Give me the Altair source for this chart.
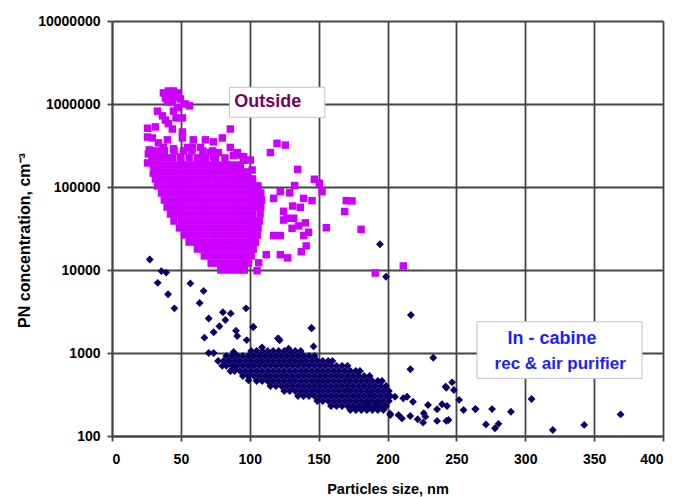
import altair as alt
import pandas as pd

x_ticks = [0, 50, 100, 150, 200, 250, 300, 350, 400]
y_ticks = [100, 1000, 10000, 100000, 1000000, 10000000]

# ---- Outside (magenta squares): dense core, read row by row ----
out_rows_y = [10000, 12100, 14750, 17900, 21700, 26400, 32100, 38900, 47300,
              57400, 69700, 84700, 103000, 125000, 152000, 184000, 224000, 272000]
out_rows_x = [
    [79, 84, 89, 93, 96],
    [72, 76.5, 81.5, 86.5, 91.5, 96, 99],
    [67, 72, 77, 82, 87, 92, 97, 101],
    [62, 66.5, 71.5, 76.5, 81.5, 86.5, 91.5, 96.5, 101, 102.5],
    [56, 61, 66, 71, 76, 81, 86, 91, 96, 101, 104],
    [52.5, 57.5, 62.5, 67.5, 72.5, 77.5, 82.5, 87.5, 92.5, 97.5, 101.5, 105.5],
    [49, 54, 59, 64, 69, 74, 79, 84, 89, 94, 99, 103, 106],
    [45, 50.5, 55.5, 60.5, 65.5, 70.5, 75.5, 80.5, 85.5, 90.5, 95.5, 100.5, 104, 107],
    [42.5, 47, 52, 57, 62, 67, 72, 77, 82, 87, 92, 97, 102, 107.5],
    [40, 44.5, 49.5, 54.5, 59.5, 64.5, 69.5, 74.5, 79.5, 84.5, 89.5, 94.5, 99.5, 104, 108],
    [38, 42, 47, 52, 57, 62, 67, 72, 77, 82, 87, 92, 97, 102, 106, 108.5],
    [36, 40.5, 45.5, 50.5, 55.5, 60.5, 65.5, 70.5, 75.5, 80.5, 85.5, 90.5, 95.5, 100.5, 105, 108],
    [33, 38, 43, 48, 53, 58, 63, 68, 73, 78, 83, 88, 93, 98, 103, 106],
    [31.5, 35.5, 40.5, 45.5, 50.5, 55.5, 60.5, 65.5, 70.5, 75.5, 80.5, 85.5, 90.5, 95.5, 100, 102],
    [31, 34, 39, 44, 49, 54, 59, 64, 69, 74, 79, 84, 89, 94, 97.5],
    [30, 32.5, 37.5, 42.5, 47.5, 52.5, 57.5, 62.5, 67.5, 72.5, 77.5, 82.5, 86, 91],
    [29, 34, 39, 44, 50, 56, 62, 68, 75, 82],
    [28.5, 33, 38, 45, 52, 58, 66, 73],
]
# ---- Outside: individual scattered points ----
out_sx = [37.3, 40.9, 44.6, 48.2, 38.8, 42.4, 46.0, 49.6, 40.2, 43.8, 53.3, 56.2,
          33, 36.6, 38.8, 40.9, 44.6, 46.5, 51.1, 43.8, 51.1, 47.5,
          25.8, 31.5, 25.8, 29.3, 27.1, 25.8, 26.4, 30, 33.7, 37.3, 35.1, 40.2,
          44.6, 51.1, 54.7, 49.6, 59, 64.2, 67.8, 73.6, 80.1, 85.9, 66.5, 73.6,
          88.1, 71.4, 78.7, 88.1, 93.2, 85.9, 58.3, 71.4, 77.2, 91, 95.4, 65.6,
          100.4, 101.7, 95.6, 93.2, 90.8, 75, 83.5, 88.3,
          119.8, 125.8, 115, 134.8, 146.9, 150.5, 152.5, 170.1, 174.2, 168.9,
          155.6, 180.8, 145.2, 139.1, 132.6, 129, 122.2, 117.3, 136.7, 131.1,
          124.6, 131.9, 127.1, 135.5, 140.3, 142.7, 139.1, 141, 137.4, 127.5,
          122.2, 112, 106.5, 105.3, 117.3, 122.2, 130.7, 124.6, 191.1, 211.5]
out_sy = [1360000, 1435000, 1435000, 1360000, 1180000, 1210000, 1210000, 1150000, 1060000, 1060000, 1000000, 950000,
          820000, 720000, 640000, 580000, 820000, 680000, 680000, 500000, 460000, 900000,
          510000, 530000, 400000, 390000, 280000, 195000, 250000, 147000, 340000, 300000, 230000, 370000,
          290000, 390000, 300000, 230000, 370000, 300000, 370000, 350000, 390000, 300000, 195000, 230000,
          240000, 147000, 160000, 175000, 147000, 500000, 300000, 260000, 260000, 260000, 210000, 230000,
          211000, 160000, 232000, 176000, 243000, 202000, 184000, 160000,
          336000, 320000, 260000, 163000, 124000, 111000, 88000, 68500, 68000, 50700,
          32300, 30900, 68500, 73000, 104000, 85000, 88000, 73000, 57000, 59000,
          51000, 42000, 42000, 34000, 37000, 28500, 26000, 19500, 16600, 14000,
          15300, 15300, 12200, 9800, 26000, 26000, 31800, 40000, 9200, 11200]

# ---- In-cabine (navy diamonds): dense band, read row by row ----
in_rows_y = [1060, 920, 800, 700, 607, 528, 460, 400, 349, 303, 264, 230, 206]
in_rows_x = [
    [101, 105, 109, 113, 117, 121, 125, 129, 133, 137],
    [83, 87, 91, 95, 99, 103, 107, 111, 115, 119, 123, 127, 131, 135, 139, 143, 147],
    [77, 81, 85, 89, 93, 97, 101, 105, 109, 113, 117, 121, 125, 129, 133, 137, 141, 145, 149, 153, 157, 160],
    [80, 83, 87, 91, 95, 99, 103, 107, 111, 115, 119, 123, 127, 131, 135, 139, 143, 147, 151, 155, 159, 163, 167, 171],
    [86, 89, 93, 97, 101, 105, 109, 113, 117, 121, 125, 129, 133, 137, 141, 145, 149, 153, 157, 161, 165, 169, 173, 177, 180],
    [95, 99, 103, 107, 111, 115, 119, 123, 127, 131, 135, 139, 143, 147, 151, 155, 159, 163, 167, 171, 175, 179, 183, 187],
    [105, 109, 113, 117, 121, 125, 129, 133, 137, 141, 145, 149, 153, 157, 161, 165, 169, 173, 177, 181, 185, 189, 193, 196],
    [115, 119, 123, 127, 131, 135, 139, 143, 147, 151, 155, 159, 163, 167, 171, 175, 179, 183, 187, 191, 195, 199],
    [125, 129, 133, 137, 141, 145, 149, 153, 157, 161, 165, 169, 173, 177, 181, 185, 189, 193, 197, 201],
    [135, 139, 143, 147, 151, 155, 159, 163, 167, 171, 175, 179, 183, 187, 191, 195, 199, 202],
    [149, 153, 157, 161, 165, 169, 173, 177, 181, 185, 189, 193, 197, 201],
    [159, 163, 167, 171, 175, 179, 183, 187, 191, 195, 199],
    [173, 177, 181, 185, 189, 193, 197],
]
# ---- In-cabine: individual scattered points ----
in_sx = [27.4, 35.8, 39.3, 33.2, 40.7, 45.3, 56.9, 66.5, 63.6, 70.2,
         67.1, 73.8, 78, 70.2, 73.8, 80.5, 86.2, 82.3, 90, 90.9,
         97.3, 102.5, 97.8, 120.4, 145, 146.3, 88.8, 99.1, 108.9, 128.2,
         121, 121.7, 144.7, 102.6, 88.3,
         194.5, 198.9, 217, 233.2, 216.6, 242.2, 246.9, 248.2, 252, 255.2,
         263.7, 275.9, 289.6, 304.6, 271.5, 278, 280.6, 320, 342.8, 369.2,
         242.7, 239.6, 236, 243.2, 242.7, 244.3, 236, 229.4, 218.5, 214.2,
         226.3, 225.8, 221.9, 216.5, 210.5, 208, 202, 205.4, 211.4, 227.5,
         201.9, 192.6, 185.1, 187.5, 264]
in_sy = [13400, 9700, 9300, 7000, 5100, 3450, 6900, 5600, 4000, 2600,
         1530, 1780, 2100, 1000, 1000, 3100, 3000, 2500, 1860, 1600,
         3450, 2050, 1430, 1500, 1990, 1200, 630, 470, 1170, 1130,
         1490, 1420, 2000, 2060, 1030,
         20400, 8300, 2870, 877, 637, 394, 443, 358, 272, 206,
         211, 211, 196, 279, 138, 124, 140, 118, 136, 182,
         382, 241, 210, 230, 152, 156, 152, 236, 259, 297,
         188, 145, 159, 174, 163, 179, 179, 297, 285, 171,
         186, 247, 259, 312, 211]

# ---- annotation boxes and labels (data coordinates) ----
box_x = [85.3, 265.0]
box_x2 = [154.5, 384.8]
box_y = [692000, 495]
box_y2 = [1590000, 2380]
label_text = ["Outside", "In - cabine", "rec & air purifier"]
label_x = [88.8, 319.4, 325.4]
label_y = [1060000, 1460, 731]

rows = []
for y, xs in zip(out_rows_y, out_rows_x):
    for x in xs:
        rows.append({"size": x, "conc": y})
for x, y in zip(out_sx, out_sy):
    rows.append({"size": x, "conc": y})
df_out = pd.DataFrame(rows)

rows = []
for y, xs in zip(in_rows_y, in_rows_x):
    for x in xs:
        rows.append({"size": x, "conc": y})
for x, y in zip(in_sx, in_sy):
    rows.append({"size": x, "conc": y})
df_in = pd.DataFrame(rows)

df_box = pd.DataFrame({"size": box_x, "size2": box_x2, "conc": box_y, "conc2": box_y2})
df_lab = pd.DataFrame({"size": label_x, "conc": label_y, "text": label_text})

FONT = "Liberation Sans"
GRID = "#444444"

x_enc = alt.X("size:Q",
              scale=alt.Scale(domain=[0, 400], nice=False, zero=False),
              axis=alt.Axis(values=x_ticks, title="Particles size, nm", grid=True,
                            gridColor=GRID, gridWidth=1.8, gridOpacity=1,
                            domainColor=GRID, domainWidth=1.8,
                            tickColor=GRID, tickWidth=1.8, tickSize=5,
                            labelFont=FONT, labelFontSize=14, labelFontWeight="bold",
                            labelColor="black", labelPadding=11,
                            titleFont=FONT, titleFontSize=14.5, titleFontWeight="bold",
                            titleColor="black", titleBaseline="alphabetic", titleY=57))
y_enc = alt.Y("conc:Q",
              scale=alt.Scale(type="log", domain=[100, 10000000], nice=False),
              axis=alt.Axis(values=y_ticks, format="d", title="PN concentration, cm⁻³",
                            grid=True, gridColor=GRID, gridWidth=1.8, gridOpacity=1,
                            domainColor=GRID, domainWidth=1.8,
                            tickColor=GRID, tickWidth=1.8, tickSize=5,
                            labelFont=FONT, labelFontSize=14, labelFontWeight="bold",
                            labelColor="black", labelPadding=7,
                            titleFont=FONT, titleFontSize=16, titleFontWeight="bold",
                            titleColor="black", titleAngle=270, titleAlign="center",
                            titleBaseline="alphabetic", titleX=-83, titleY=219))

outside = alt.Chart(df_out).mark_square(size=56, color="#cc00ff", opacity=1).encode(x=x_enc, y=y_enc)
inside = alt.Chart(df_in).mark_point(shape="diamond", filled=True, size=62,
                                     color="#0c0068", opacity=1).encode(x=x_enc, y=y_enc)
boxes = alt.Chart(df_box).mark_rect(fill="white", stroke="#c4c4c4", strokeWidth=1).encode(
    x=x_enc, x2="size2:Q", y=y_enc, y2="conc2:Q")
lab1 = alt.Chart(df_lab.iloc[[0]]).mark_text(align="left", baseline="middle", font=FONT,
                                             fontWeight="bold", fontSize=18, color="#7a0060").encode(
    x=x_enc, y=y_enc, text="text:N")
lab2 = alt.Chart(df_lab.iloc[[1]]).mark_text(align="center", baseline="middle", font=FONT,
                                             fontWeight="bold", fontSize=18, color="#1e1eff").encode(
    x=x_enc, y=y_enc, text="text:N")
lab3 = alt.Chart(df_lab.iloc[[2]]).mark_text(align="center", baseline="middle", font=FONT,
                                             fontWeight="bold", fontSize=17, color="#1e1eff").encode(
    x=x_enc, y=y_enc, text="text:N")

chart = alt.layer(outside, inside, boxes, lab1, lab2, lab3).properties(
    width=551, height=415,
    autosize=alt.AutoSizeParams(type="none"),
    padding={"left": 112, "top": 21, "right": 11, "bottom": 61},
    background="white",
).configure_view(stroke=None)

chart.save("out.html", embed_options={"renderer": "svg", "actions": False})
